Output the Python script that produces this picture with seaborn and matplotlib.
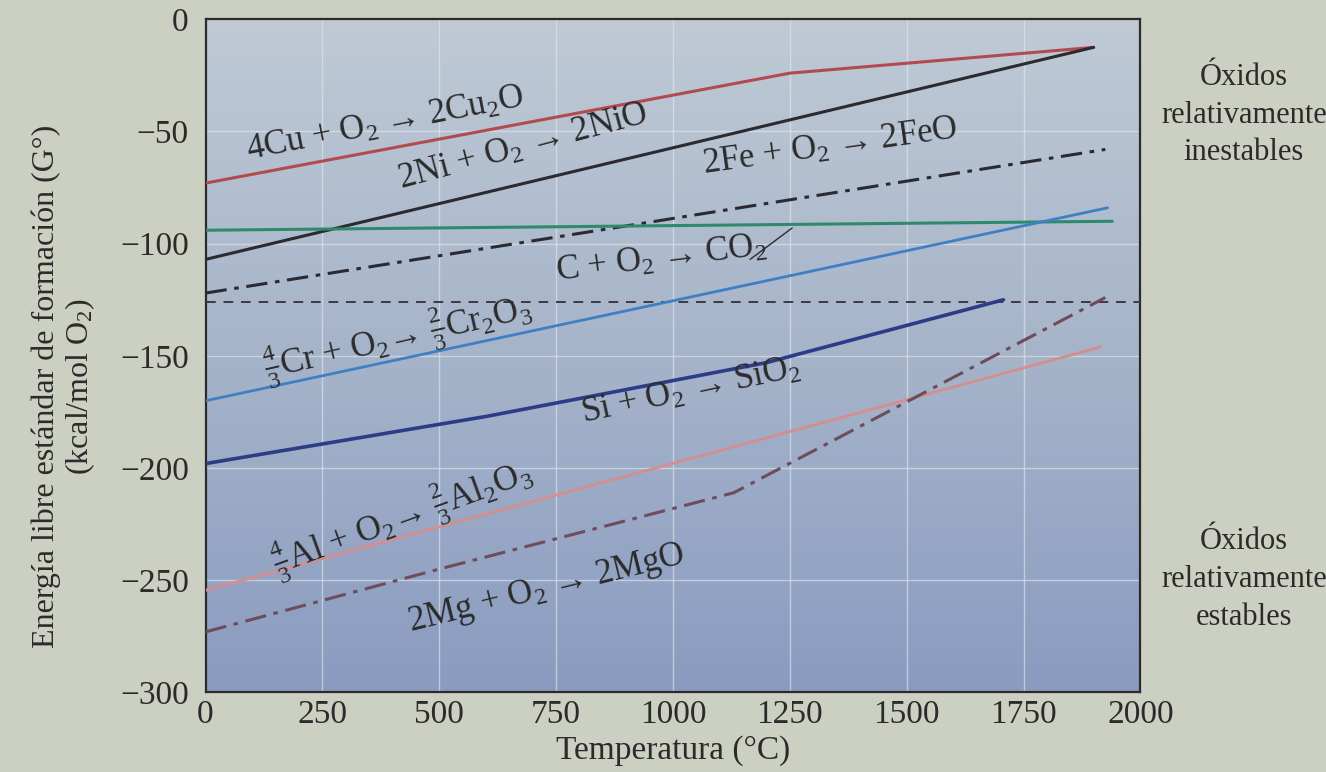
import numpy as np
import pandas as pd
import seaborn as sns
import matplotlib.pyplot as plt
from matplotlib.colors import LinearSegmentedColormap

# ---------------- data ----------------
cu_T = [0, 1250, 1900]
cu_G = [-73, -24, -12.5]

ni_T = [0, 1900]
ni_G = [-107, -12.5]

fe_T = [0, 1925]
fe_G = [-122, -58]

c_T = [0, 1940]
c_G = [-94, -90]

cr_T = [0, 1930]
cr_G = [-170, -84]

si_T = [0, 600, 1200, 1707]
si_G = [-198, -177, -153, -125]

al_T = [0, 1016, 1915]
al_G = [-254.5, -197, -146]

mg_T = [0, 500, 1130, 1925]
mg_G = [-273, -245, -211, -124]

ref_T = [0, 2000]
ref_G = [-126, -126]

x_ticks = [0, 250, 500, 750, 1000, 1250, 1500, 1750, 2000]
y_ticks = [0, -50, -100, -150, -200, -250, -300]

# ---------------- style ----------------
sns.set_style('white')
plt.rcParams['font.family'] = ['Liberation Serif', 'DejaVu Serif']
plt.rcParams['mathtext.fontset'] = 'custom'
plt.rcParams['mathtext.rm'] = 'Liberation Serif'
plt.rcParams['mathtext.it'] = 'Liberation Serif:italic'
plt.rcParams['mathtext.bf'] = 'Liberation Serif:bold'

PAPER = '#cbd0c3'
INK = '#2b2b2b'

fig = plt.figure(figsize=(13.26, 7.72), dpi=100, facecolor=PAPER)
ax = fig.add_axes([0.155, 0.103, 0.705, 0.872])

# bluish gradient plot background, light at the top, darker at the bottom
grad_cmap = LinearSegmentedColormap.from_list('bg', ['#bfcad5', '#a6b4ca', '#8a9bc0'])
grad = np.linspace(0, 1, 256).reshape(-1, 1)
ax.imshow(grad, extent=[0, 2000, -300, 0], aspect='auto', cmap=grad_cmap, zorder=0, origin='upper')

for t in x_ticks[1:-1]:
    ax.axvline(t, color='#e4e9ee', lw=1.0, alpha=0.6, zorder=1)
for g in y_ticks[1:-1]:
    ax.axhline(g, color='#e4e9ee', lw=1.0, alpha=0.6, zorder=1)

dashdot = (0, (7, 2.5, 1.5, 2.5))
series = [
    (cu_T, cu_G, '#b24a50', '-', 2.2),
    (ni_T, ni_G, '#2a2a30', '-', 2.2),
    (fe_T, fe_G, '#2a2a35', dashdot, 2.2),
    (c_T, c_G, '#2f8a6c', '-', 2.2),
    (ref_T, ref_G, '#3a3a45', (0, (5, 4)), 1.4),
    (cr_T, cr_G, '#3f7fc4', '-', 2.0),
    (si_T, si_G, '#2c3c86', '-', 2.6),
    (al_T, al_G, '#d48e8e', '-', 2.0),
    (mg_T, mg_G, '#6e4c5c', dashdot, 2.2),
]
for T, G, col, ls, lw in series:
    sns.lineplot(x=T, y=G, ax=ax, color=col, linestyle=ls, lw=lw, sort=False, zorder=3)

# leader line for the CO2 label
ax.plot([1165, 1255], [-107, -93], color=INK, lw=1.0, zorder=3)

lab = dict(fontsize=25, color=INK, ha='center', va='center', rotation_mode='anchor', zorder=4)
ax.text(385, -47, r'4Cu + O$_2$ → 2Cu$_2$O', rotation=11, **lab)
ax.text(680, -57, r'2Ni + O$_2$ → 2NiO', rotation=15, **lab)
ax.text(1337, -57, r'2Fe + O$_2$ → 2FeO', rotation=8, **lab)
ax.text(975, -107, r'C + O$_2$ → CO$_2$', rotation=7, **lab)
ax.text(410, -142, r'$\frac{4}{3}$Cr + O$_2$→ $\frac{2}{3}$Cr$_2$O$_3$', rotation=13, **lab)
ax.text(1040, -166, r'Si + O$_2$ → SiO$_2$', rotation=12, **lab)
ax.text(420, -222, r'$\frac{4}{3}$Al + O$_2$→ $\frac{2}{3}$Al$_2$O$_3$', rotation=20, **lab)
ax.text(730, -254, r'2Mg + O$_2$ → 2MgO', rotation=14, **lab)

ax.set_xlim(0, 2000)
ax.set_ylim(-300, 0)
ax.set_xticks(x_ticks)
ax.set_yticks(y_ticks)
ax.set_yticklabels([str(v).replace('-', '−') for v in y_ticks])
ax.tick_params(axis='x', direction='in', length=14, width=1.5, color=INK, labelsize=24, labelcolor=INK, pad=5)
ax.tick_params(axis='y', direction='inout', length=16, width=1.5, color=INK, labelsize=24, labelcolor=INK, pad=4)
for s in ax.spines.values():
    s.set_color(INK)
    s.set_linewidth(1.6)

ax.set_xlabel('Temperatura (°C)', fontsize=24, color=INK, labelpad=4)
ax.set_ylabel('Energía libre estándar de formación (G°)\n(kcal/mol O$_2$)', fontsize=23,
              color=INK, linespacing=1.1)
ax.yaxis.set_label_coords(-0.116, 0.455)

side = dict(fontsize=22, color=INK, ha='center', va='center', linespacing=1.4)
fig.text(0.938, 0.851, 'Óxidos\nrelativamente\ninestables', **side)
fig.text(0.938, 0.249, 'Óxidos\nrelativamente\nestables', **side)

fig.savefig('out.png', dpi=100, facecolor=PAPER)
